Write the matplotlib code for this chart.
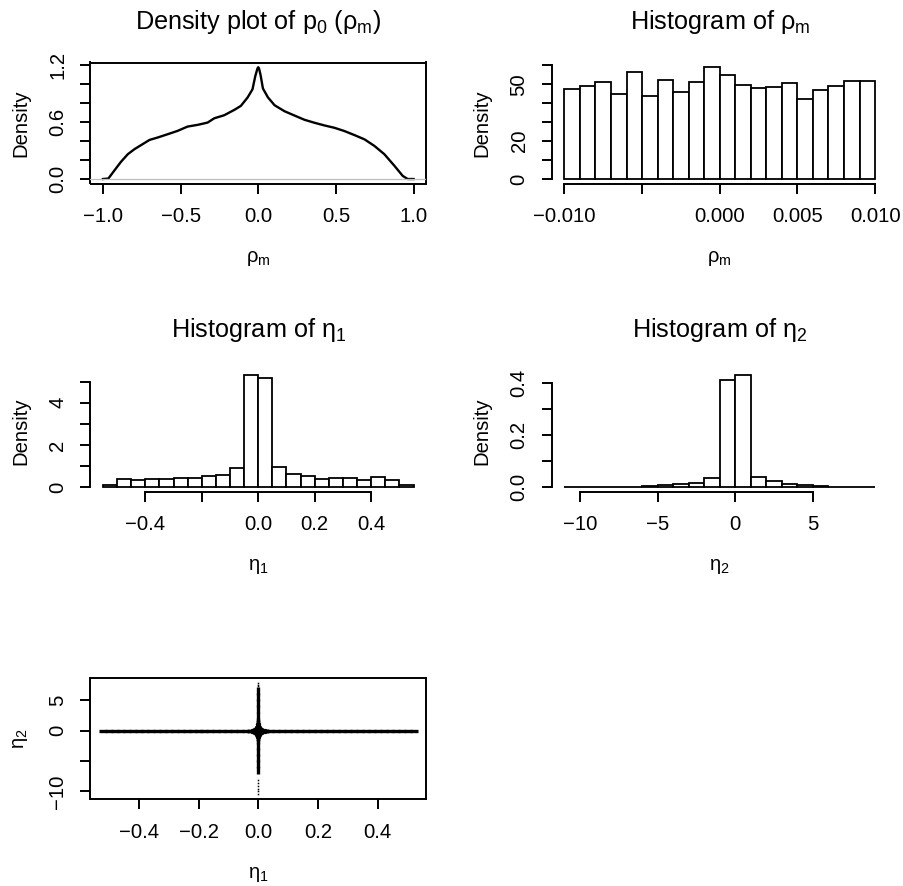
import matplotlib
matplotlib.use("Agg")
import matplotlib.pyplot as plt
import numpy as np

plt.rcParams['font.family'] = ['Liberation Sans', 'DejaVu Sans']
plt.rcParams['mathtext.fontset'] = 'custom'
plt.rcParams['mathtext.rm'] = 'Liberation Sans'
plt.rcParams['mathtext.it'] = 'Liberation Sans:italic'
plt.rcParams['mathtext.bf'] = 'Liberation Sans:bold'
plt.rcParams['mathtext.default'] = 'rm'
plt.rcParams['axes.unicode_minus'] = True

# ---------------- data ----------------
# density of rho_m
dens_x = [-1.0, -0.965, -0.926, -0.884, -0.84, -0.797, -0.755, -0.70, -0.648, -0.583,
          -0.519, -0.455, -0.39, -0.326, -0.283, -0.219, -0.154, -0.112, -0.069, -0.037,
          -0.019, -0.005, 0.0, 0.005, 0.015, 0.03, 0.062, 0.105, 0.169, 0.233,
          0.298, 0.362, 0.426, 0.491, 0.555, 0.619, 0.684, 0.748, 0.812, 0.877,
          0.93, 0.962, 1.0]
dens_y = [0.0, 0.005, 0.09, 0.18, 0.26, 0.313, 0.355, 0.41, 0.435, 0.47,
          0.505, 0.55, 0.568, 0.592, 0.637, 0.669, 0.725, 0.767, 0.854, 0.941,
          1.08, 1.16, 1.172, 1.16, 1.09, 0.95, 0.857, 0.774, 0.711, 0.666,
          0.621, 0.59, 0.562, 0.537, 0.503, 0.461, 0.416, 0.347, 0.26, 0.138,
          0.033, 0.0, 0.0]

# histogram of rho_m
rho_edges = [-0.010, -0.009, -0.008, -0.007, -0.006, -0.005, -0.004, -0.003, -0.002, -0.001,
             0.000, 0.001, 0.002, 0.003, 0.004, 0.005, 0.006, 0.007, 0.008, 0.009, 0.010]
rho_dens = [47.5, 49.3, 51.4, 45.1, 56.7, 43.8, 52.3, 45.9, 51.4, 59.2,
            55.1, 49.6, 48.2, 48.6, 50.9, 42.2, 47.3, 49.1, 51.9, 51.8]

# histogram of eta_1
eta1_edges = [-0.55, -0.50, -0.45, -0.40, -0.35, -0.30, -0.25, -0.20, -0.15, -0.10, -0.05,
              0.00, 0.05, 0.10, 0.15, 0.20, 0.25, 0.30, 0.35, 0.40, 0.45, 0.50, 0.55]
eta1_dens = [0.11, 0.40, 0.35, 0.37, 0.40, 0.45, 0.43, 0.51, 0.58, 0.88,
             5.32, 5.19, 0.93, 0.62, 0.50, 0.37, 0.42, 0.42, 0.32, 0.48, 0.35, 0.08]

# histogram of eta_2
eta2_edges = [-11, -10, -9, -8, -7, -6, -5, -4, -3, -2, -1, 0, 1, 2, 3, 4, 5, 6, 7, 8, 9]
eta2_dens = [0.0002, 0.0002, 0.0003, 0.0005, 0.0012, 0.0025, 0.0077, 0.0128, 0.0167, 0.036,
             0.410, 0.4295, 0.0385, 0.023, 0.0128, 0.0077, 0.004, 0.0015, 0.0008, 0.0005]

# scatter eta_1 vs eta_2 (cross shape)
harm_eta1 = [-0.52, -0.50, -0.48, -0.46, -0.44, -0.42, -0.40, -0.38, -0.36, -0.34, -0.32,
             -0.30, -0.28, -0.26, -0.24, -0.22, -0.20, -0.18, -0.16, -0.14, -0.12, -0.10,
             -0.08, -0.06, -0.04, -0.02, 0.00, 0.02, 0.04, 0.06, 0.08, 0.10, 0.12, 0.14,
             0.16, 0.18, 0.20, 0.22, 0.24, 0.26, 0.28, 0.30, 0.32, 0.34, 0.36, 0.38, 0.40,
             0.42, 0.44, 0.46, 0.48, 0.50, 0.52]
harm_eta2 = [0.0] * len(harm_eta1)
varm_eta2 = [-6.5, -5.5, -4.5, -3.5, -2.5, -1.5, -0.5, 0.5, 1.5, 2.5, 3.5, 4.5, 5.5, 6.5]
varm_eta1 = [0.0] * len(varm_eta2)
vdots_eta2 = [7.3, 7.6, 7.9, -8.1, -8.6, -9.1, -9.6, -10.0, -10.4]
vdots_eta1 = [0.0] * len(vdots_eta2)
blob_in_eta1 = [0.0, -0.010, 0.010, 0.0, 0.0]
blob_in_eta2 = [0.0, 0.0, 0.0, -0.5, 0.5]
blob_mid_eta1 = [-0.022, 0.022, 0.0, 0.0]
blob_mid_eta2 = [0.0, 0.0, -1.1, 1.1]
blob_out_eta1 = [-0.034, 0.034, 0.0, 0.0]
blob_out_eta2 = [0.0, 0.0, -1.6, 1.6]

# ---------------- layout ----------------
W, H = 904, 886
fig = plt.figure(figsize=(W / 100, H / 100), dpi=100)

LW = 1.4
TICKLEN = 7.2
FS = 14.6
TFS = 18.2


def ax_at(left, top, w, h):
    return fig.add_axes([left / W, 1 - (top + h) / H, w / W, h / H])


def style(ax, box):
    for s in ax.spines.values():
        s.set_linewidth(LW)
    if not box:
        ax.spines['top'].set_visible(False)
        ax.spines['right'].set_visible(False)
    ax.tick_params(direction='out', length=TICKLEN, width=LW, labelsize=FS,
                   colors='black')
    ax.tick_params(axis='x', pad=10.0)
    ax.tick_params(axis='y', pad=16.5)
    for lab in ax.get_yticklabels():
        lab.set_rotation(90)
        lab.set_ha('center')
        lab.set_va('center')


def texts(ax_left, ax_top, ax_w, ax_h, title, xlab, ylab):
    cx = ax_left + ax_w / 2
    if title:
        fig.text(cx / W, 1 - (ax_top - 34) / H, title, ha='center', va='baseline',
                 fontsize=TFS)
    fig.text(cx / W, 1 - (ax_top + ax_h + 79) / H, xlab, ha='center', va='baseline',
             fontsize=FS)
    fig.text((ax_left - 70) / W, 1 - (ax_top + ax_h / 2) / H, ylab, ha='center',
             va='center', rotation=90, fontsize=FS)


def hist(ax, edges, dens):
    e = np.asarray(edges, dtype=float)
    ax.bar(e[:-1], dens, width=np.diff(e), align='edge', color='white',
           edgecolor='black', linewidth=1.3)


M = '\u2212'
COL1, COL2 = 90.5, 552
CW = 335.5
ROW1, ROW2, ROW3 = 62.5, 370.5, 678
RH = 121

# Panel A: density
axA = ax_at(COL1, ROW1, CW, RH)
axA.plot(dens_x, dens_y, color='black', lw=1.7)
axA.axhline(0, color='#BEBEBE', lw=0.9, zorder=3)
axA.set_xlim(-1.08, 1.08)
axA.set_ylim(-0.047, 1.222)
axA.set_xticks([-1, -0.5, 0, 0.5, 1], [M + '1.0', M + '0.5', '0.0', '0.5', '1.0'])
axA.set_yticks([0, 0.2, 0.4, 0.6, 0.8, 1.0, 1.2], ['0.0', '', '', '0.6', '', '', '1.2'])
style(axA, True)
texts(COL1, ROW1, CW, RH, r'Density plot of $p_0$ ($\rho_m$)', r'$\rho_m$', 'Density')

# Panel B: hist rho_m
axB = ax_at(COL2, ROW1, CW, RH)
hist(axB, rho_edges, rho_dens)
mxB = max(rho_dens)
axB.set_xlim(-0.0108, 0.0108)
axB.set_ylim(-0.04 * mxB, 1.04 * mxB)
axB.set_xticks([-0.01, -0.005, 0, 0.005, 0.01], [M + '0.010', '', '0.000', '0.005', '0.010'])
axB.set_yticks([0, 10, 20, 30, 40, 50, 60], ['0', '', '20', '', '', '50', ''])
axB.spines['left'].set_bounds(0, 60)
axB.spines['bottom'].set_bounds(-0.01, 0.01)
style(axB, False)
texts(COL2, ROW1, CW, RH, r'Histogram of $\rho_m$', r'$\rho_m$', 'Density')

# Panel C: hist eta_1
axC = ax_at(COL1, ROW2, CW, RH)
hist(axC, eta1_edges, eta1_dens)
mxC = max(eta1_dens)
axC.set_xlim(-0.594, 0.594)
axC.set_ylim(-0.04 * mxC, 1.04 * mxC)
axC.set_xticks([-0.4, -0.2, 0, 0.2, 0.4], [M + '0.4', '', '0.0', '0.2', '0.4'])
axC.set_yticks([0, 1, 2, 3, 4, 5], ['0', '', '2', '', '4', ''])
axC.spines['left'].set_bounds(0, 5)
axC.spines['bottom'].set_bounds(-0.4, 0.4)
style(axC, False)
texts(COL1, ROW2, CW, RH, r'Histogram of $\eta_1$', r'$\eta_1$', 'Density')

# Panel D: hist eta_2
axD = ax_at(COL2, ROW2, CW, RH)
hist(axD, eta2_edges, eta2_dens)
mxD = max(eta2_dens)
axD.set_xlim(-11.8, 9.8)
axD.set_ylim(-0.04 * mxD, 1.04 * mxD)
axD.set_xticks([-10, -5, 0, 5], [M + '10', M + '5', '0', '5'])
axD.set_yticks([0, 0.1, 0.2, 0.3, 0.4], ['0.0', '', '0.2', '', '0.4'])
axD.spines['left'].set_bounds(0, 0.4)
axD.spines['bottom'].set_bounds(-10, 5)
style(axD, False)
texts(COL2, ROW2, CW, RH, r'Histogram of $\eta_2$', r'$\eta_2$', 'Density')

# Panel E: scatter
axE = ax_at(COL1, ROW3, CW, RH)
axE.plot(harm_eta1, harm_eta2, linestyle='none', marker='_', markersize=5.5,
         markeredgewidth=2.4, color='black')
axE.plot(varm_eta1, varm_eta2, linestyle='none', marker='|', markersize=5.5,
         markeredgewidth=2.4, color='black')
axE.plot(vdots_eta1, vdots_eta2, linestyle='none', marker='s', markersize=1.1,
         markeredgewidth=0, color='black')
axE.plot(blob_in_eta1, blob_in_eta2, linestyle='none', marker='o', markersize=5.5,
         markeredgewidth=0, color='black')
axE.plot(blob_mid_eta1, blob_mid_eta2, linestyle='none', marker='o', markersize=3.8,
         markeredgewidth=0, color='black')
axE.plot(blob_out_eta1, blob_out_eta2, linestyle='none', marker='o', markersize=2.8,
         markeredgewidth=0, color='black')
axE.set_xlim(-0.5616, 0.5616)
axE.set_ylim(-11.25, 8.68)
axE.set_xticks([-0.4, -0.2, 0, 0.2, 0.4], [M + '0.4', M + '0.2', '0.0', '0.2', '0.4'])
axE.set_yticks([-10, -5, 0, 5], [M + '10', '', '0', '5'])
style(axE, True)
texts(COL1, ROW3, CW, RH, None, r'$\eta_1$', r'$\eta_2$')

fig.savefig('out.png', dpi=100, facecolor='white')
